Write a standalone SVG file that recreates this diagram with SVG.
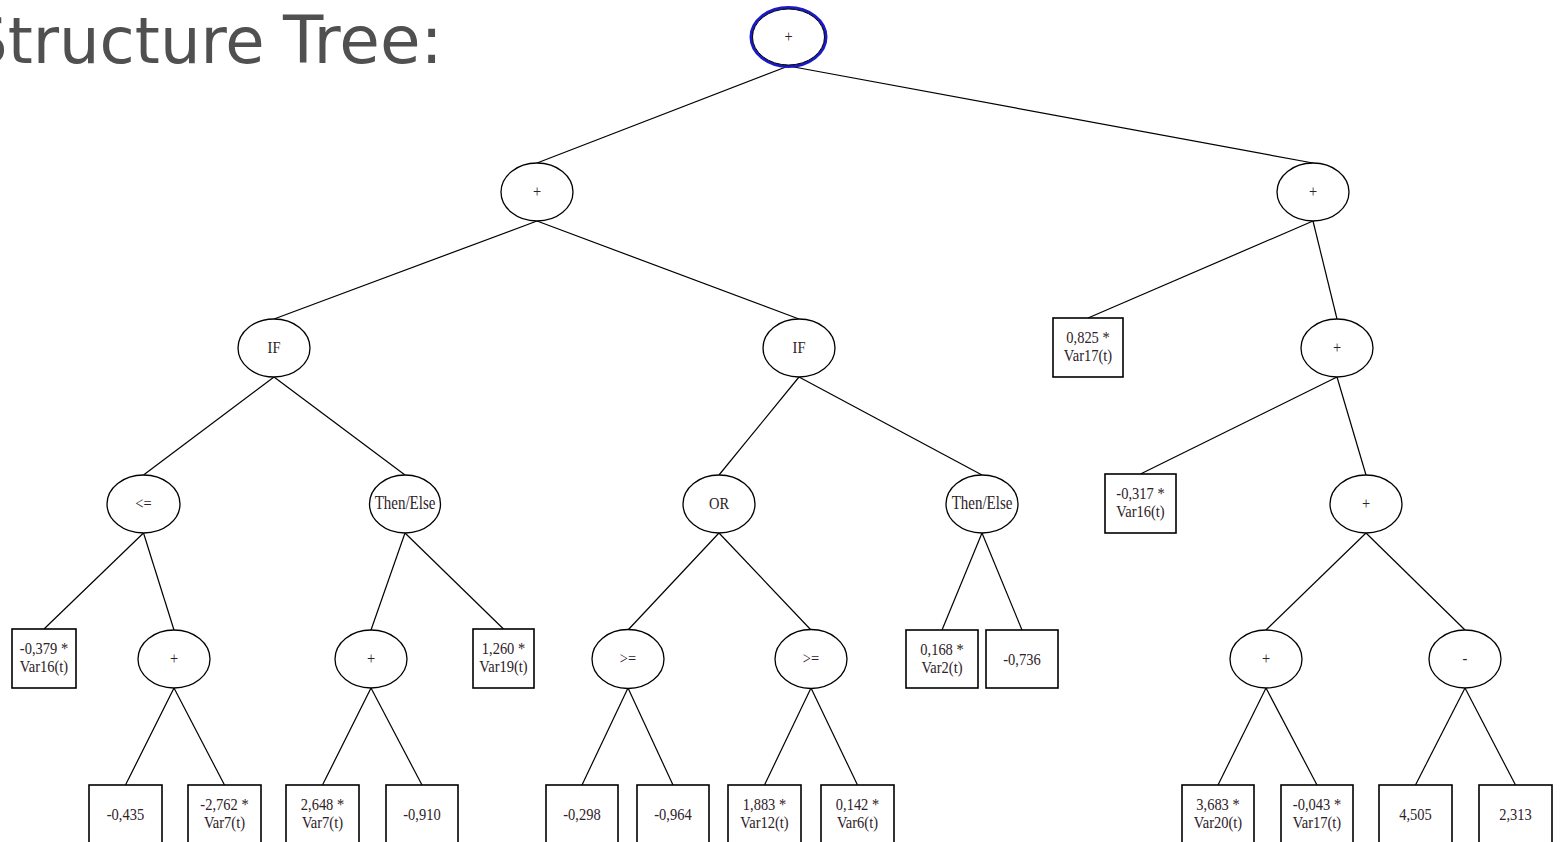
<svg xmlns="http://www.w3.org/2000/svg" width="1562" height="842" viewBox="0 0 1562 842">
<style>
.e{fill:#fff;stroke:#000;stroke-width:1.3}
.b{fill:#fff;stroke:#000;stroke-width:1.6}
.c line{stroke:#000;stroke-width:1.2}
.t{font-family:"Liberation Serif","Times New Roman",serif;font-size:14.5px;fill:#2e2228;text-anchor:middle}
.title{font-family:"DejaVu Sans",Verdana,sans-serif;font-size:64px;fill:#505050}
</style>
<rect width="1562" height="842" fill="#fff"/>
<text class="title" x="-33" y="63">Structure <tspan x="283" style="font-size:66px">Tree:</tspan></text>
<g class="c" id="connectors">
<line x1="788.5" y1="66" x2="537" y2="163"/>
<line x1="788.5" y1="66" x2="1313" y2="163"/>
<line x1="537" y1="221" x2="274" y2="319"/>
<line x1="537" y1="221" x2="799" y2="319"/>
<line x1="1313" y1="221" x2="1088" y2="318"/>
<line x1="1313" y1="221" x2="1337" y2="319"/>
<line x1="274" y1="377" x2="143.5" y2="475"/>
<line x1="274" y1="377" x2="405" y2="475"/>
<line x1="799" y1="377" x2="719" y2="475"/>
<line x1="799" y1="377" x2="982" y2="475"/>
<line x1="1337" y1="377" x2="1140.5" y2="474"/>
<line x1="1337" y1="377" x2="1366" y2="475"/>
<line x1="143.5" y1="533" x2="44" y2="629"/>
<line x1="143.5" y1="533" x2="174" y2="630"/>
<line x1="405" y1="533" x2="371" y2="630"/>
<line x1="405" y1="533" x2="503.5" y2="629"/>
<line x1="719" y1="533" x2="628" y2="630"/>
<line x1="719" y1="533" x2="811" y2="630"/>
<line x1="982" y1="533" x2="942" y2="630"/>
<line x1="982" y1="533" x2="1022" y2="630"/>
<line x1="1366" y1="533" x2="1266" y2="630"/>
<line x1="1366" y1="533" x2="1465" y2="630"/>
<line x1="174" y1="688" x2="125.5" y2="785"/>
<line x1="174" y1="688" x2="224.5" y2="785"/>
<line x1="371" y1="688" x2="322.5" y2="785"/>
<line x1="371" y1="688" x2="422" y2="785"/>
<line x1="628" y1="688" x2="582" y2="785"/>
<line x1="628" y1="688" x2="673" y2="785"/>
<line x1="811" y1="688" x2="764.5" y2="785"/>
<line x1="811" y1="688" x2="857.5" y2="785"/>
<line x1="1266" y1="688" x2="1218" y2="785"/>
<line x1="1266" y1="688" x2="1317" y2="785"/>
<line x1="1465" y1="688" x2="1415.5" y2="785"/>
<line x1="1465" y1="688" x2="1515.5" y2="785"/>
</g>
<g id="n0"><ellipse cx="788.5" cy="37" rx="37.5" ry="29.5" fill="#fff" stroke="#1a1ac8" stroke-width="3"/><ellipse cx="788.5" cy="37" rx="36" ry="28" fill="none" stroke="#000" stroke-width="1"/><text class="t" transform="translate(788.5,37) scale(1,1.2)" y="4.4">+</text></g>
<g id="n1"><ellipse class="e" cx="537" cy="192" rx="36" ry="29"/><text class="t" transform="translate(537,192) scale(1,1.2)" y="4.4">+</text></g>
<g id="n2"><ellipse class="e" cx="1313" cy="192" rx="36" ry="29"/><text class="t" transform="translate(1313,192) scale(1,1.2)" y="4.4">+</text></g>
<g id="n3"><ellipse class="e" cx="274" cy="348" rx="36" ry="29"/><text class="t" transform="translate(274,348) scale(1,1.2)" y="4.4">IF</text></g>
<g id="n4"><ellipse class="e" cx="799" cy="348" rx="36" ry="29"/><text class="t" transform="translate(799,348) scale(1,1.2)" y="4.4">IF</text></g>
<g id="n5"><rect class="b" x="1053" y="318" width="70" height="59"/><text class="t" transform="translate(1088,347.5) scale(1,1.2)"><tspan x="0" y="-3.75">0,825 *</tspan><tspan x="0" y="11.25">Var17(t)</tspan></text></g>
<g id="n6"><ellipse class="e" cx="1337" cy="348" rx="36" ry="29"/><text class="t" transform="translate(1337,348) scale(1,1.2)" y="4.4">+</text></g>
<g id="n7"><ellipse class="e" cx="143.5" cy="504" rx="36.5" ry="29"/><text class="t" transform="translate(143.5,504) scale(1,1.2)" y="4.4">&lt;=</text></g>
<g id="n8"><ellipse class="e" cx="405" cy="504" rx="35.5" ry="29"/><text class="t" transform="translate(405,504) scale(1,1.2)" y="4.4" style="font-size:15px">Then/Else</text></g>
<g id="n9"><ellipse class="e" cx="719" cy="504" rx="36" ry="29"/><text class="t" transform="translate(719,504) scale(1,1.2)" y="4.4">OR</text></g>
<g id="n10"><ellipse class="e" cx="982" cy="504" rx="36" ry="29"/><text class="t" transform="translate(982,504) scale(1,1.2)" y="4.4" style="font-size:15px">Then/Else</text></g>
<g id="n11"><rect class="b" x="1105" y="474" width="71" height="59"/><text class="t" transform="translate(1140.5,503.5) scale(1,1.2)"><tspan x="0" y="-3.75">-0,317 *</tspan><tspan x="0" y="11.25">Var16(t)</tspan></text></g>
<g id="n12"><ellipse class="e" cx="1366" cy="504" rx="36" ry="29"/><text class="t" transform="translate(1366,504) scale(1,1.2)" y="4.4">+</text></g>
<g id="n13"><rect class="b" x="12" y="629" width="64" height="59"/><text class="t" transform="translate(44,658.5) scale(1,1.2)"><tspan x="0" y="-3.75">-0,379 *</tspan><tspan x="0" y="11.25">Var16(t)</tspan></text></g>
<g id="n14"><ellipse class="e" cx="174" cy="659" rx="36" ry="29"/><text class="t" transform="translate(174,659) scale(1,1.2)" y="4.4">+</text></g>
<g id="n15"><ellipse class="e" cx="371" cy="659" rx="36" ry="29"/><text class="t" transform="translate(371,659) scale(1,1.2)" y="4.4">+</text></g>
<g id="n16"><rect class="b" x="473" y="629" width="61" height="59"/><text class="t" transform="translate(503.5,658.5) scale(1,1.2)"><tspan x="0" y="-3.75">1,260 *</tspan><tspan x="0" y="11.25">Var19(t)</tspan></text></g>
<g id="n17"><ellipse class="e" cx="628" cy="659" rx="36" ry="29.5"/><text class="t" transform="translate(628,659) scale(1,1.2)" y="4.4">&gt;=</text></g>
<g id="n18"><ellipse class="e" cx="811" cy="659" rx="36" ry="29.5"/><text class="t" transform="translate(811,659) scale(1,1.2)" y="4.4">&gt;=</text></g>
<g id="n19"><rect class="b" x="906" y="630" width="72" height="58"/><text class="t" transform="translate(942,659) scale(1,1.2)"><tspan x="0" y="-3.75">0,168 *</tspan><tspan x="0" y="11.25">Var2(t)</tspan></text></g>
<g id="n20"><rect class="b" x="986" y="630" width="72" height="58"/><text class="t" transform="translate(1022,659) scale(1,1.2)" y="4.6">-0,736</text></g>
<g id="n21"><ellipse class="e" cx="1266" cy="659" rx="36" ry="29"/><text class="t" transform="translate(1266,659) scale(1,1.2)" y="4.4">+</text></g>
<g id="n22"><ellipse class="e" cx="1465" cy="659" rx="36" ry="29"/><text class="t" transform="translate(1465,659) scale(1,1.2)" y="4.4">-</text></g>
<g id="n23"><rect class="b" x="89" y="785" width="73" height="59"/><text class="t" transform="translate(125.5,814.5) scale(1,1.2)" y="4.6">-0,435</text></g>
<g id="n24"><rect class="b" x="188" y="785" width="73" height="59"/><text class="t" transform="translate(224.5,814.5) scale(1,1.2)"><tspan x="0" y="-3.75">-2,762 *</tspan><tspan x="0" y="11.25">Var7(t)</tspan></text></g>
<g id="n25"><rect class="b" x="286" y="785" width="73" height="59"/><text class="t" transform="translate(322.5,814.5) scale(1,1.2)"><tspan x="0" y="-3.75">2,648 *</tspan><tspan x="0" y="11.25">Var7(t)</tspan></text></g>
<g id="n26"><rect class="b" x="386" y="785" width="72" height="59"/><text class="t" transform="translate(422,814.5) scale(1,1.2)" y="4.6">-0,910</text></g>
<g id="n27"><rect class="b" x="546" y="785" width="72" height="59"/><text class="t" transform="translate(582,814.5) scale(1,1.2)" y="4.6">-0,298</text></g>
<g id="n28"><rect class="b" x="637" y="785" width="72" height="59"/><text class="t" transform="translate(673,814.5) scale(1,1.2)" y="4.6">-0,964</text></g>
<g id="n29"><rect class="b" x="728" y="785" width="73" height="59"/><text class="t" transform="translate(764.5,814.5) scale(1,1.2)"><tspan x="0" y="-3.75">1,883 *</tspan><tspan x="0" y="11.25">Var12(t)</tspan></text></g>
<g id="n30"><rect class="b" x="821" y="785" width="73" height="59"/><text class="t" transform="translate(857.5,814.5) scale(1,1.2)"><tspan x="0" y="-3.75">0,142 *</tspan><tspan x="0" y="11.25">Var6(t)</tspan></text></g>
<g id="n31"><rect class="b" x="1182" y="785" width="72" height="59"/><text class="t" transform="translate(1218,814.5) scale(1,1.2)"><tspan x="0" y="-3.75">3,683 *</tspan><tspan x="0" y="11.25">Var20(t)</tspan></text></g>
<g id="n32"><rect class="b" x="1281" y="785" width="72" height="59"/><text class="t" transform="translate(1317,814.5) scale(1,1.2)"><tspan x="0" y="-3.75">-0,043 *</tspan><tspan x="0" y="11.25">Var17(t)</tspan></text></g>
<g id="n33"><rect class="b" x="1379" y="785" width="73" height="59"/><text class="t" transform="translate(1415.5,814.5) scale(1,1.2)" y="4.6">4,505</text></g>
<g id="n34"><rect class="b" x="1479" y="785" width="73" height="59"/><text class="t" transform="translate(1515.5,814.5) scale(1,1.2)" y="4.6">2,313</text></g>
</svg>
